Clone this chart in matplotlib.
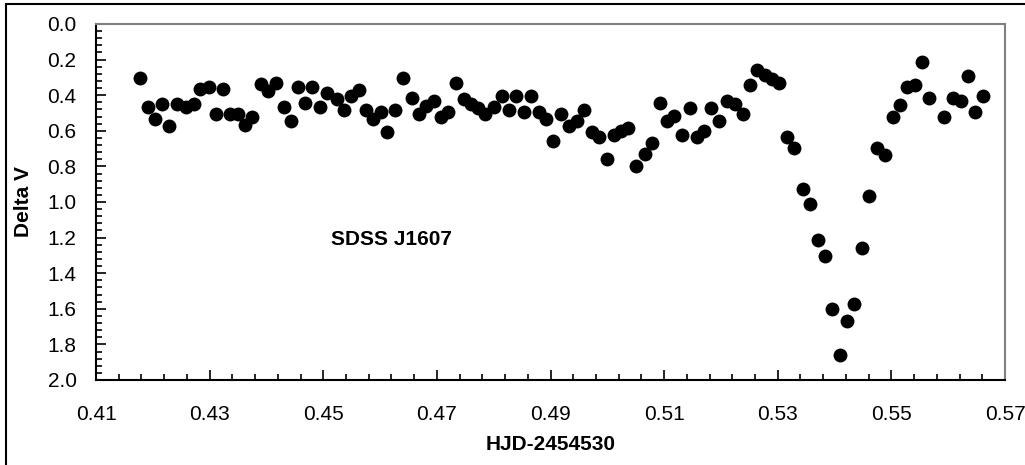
import numpy as np
import matplotlib.pyplot as plt
from matplotlib.ticker import FixedLocator, FormatStrFormatter
from matplotlib.patches import Rectangle

plt.rcParams['font.family'] = ['Liberation Sans', 'DejaVu Sans']

# HJD-2454530
hjd = [0.4177, 0.4191, 0.4203, 0.4216, 0.4229, 0.4242, 0.4258, 0.4272, 0.4283, 0.4298,
       0.4311, 0.4323, 0.4336, 0.4349, 0.4362, 0.4375, 0.4391, 0.4403, 0.4416, 0.4430,
       0.4443, 0.4456, 0.4468, 0.4481, 0.4494, 0.4507, 0.4524, 0.4537, 0.4549, 0.4562,
       0.4575, 0.4588, 0.4601, 0.4613, 0.4627, 0.4640, 0.4656, 0.4669, 0.4681, 0.4695,
       0.4708, 0.4720, 0.4733, 0.4747, 0.4760, 0.4773, 0.4785, 0.4801, 0.4814, 0.4827,
       0.4840, 0.4853, 0.4866, 0.4879, 0.4892, 0.4905, 0.4918, 0.4933, 0.4946, 0.4959,
       0.4973, 0.4986, 0.4999, 0.5011, 0.5024, 0.5037, 0.5051, 0.5066, 0.5079, 0.5092,
       0.5105, 0.5118, 0.5132, 0.5145, 0.5157, 0.5170, 0.5183, 0.5196, 0.5211, 0.5225,
       0.5238, 0.5251, 0.5264, 0.5278, 0.5290, 0.5302, 0.5316, 0.5329, 0.5345, 0.5357,
       0.5370, 0.5383, 0.5396, 0.5409, 0.5422, 0.5435, 0.5448, 0.5461, 0.5475, 0.5489,
       0.5503, 0.5515, 0.5528, 0.5542, 0.5554, 0.5567, 0.5593, 0.5609, 0.5622, 0.5635,
       0.5648, 0.5661]

delta_v = [0.302, 0.465, 0.535, 0.451, 0.573, 0.451, 0.465, 0.451, 0.363, 0.352,
           0.506, 0.363, 0.506, 0.506, 0.567, 0.522, 0.339, 0.378, 0.330, 0.465,
           0.543, 0.352, 0.442, 0.352, 0.465, 0.389, 0.423, 0.483, 0.406, 0.372,
           0.483, 0.535, 0.494, 0.605, 0.483, 0.302, 0.414, 0.504, 0.463, 0.431,
           0.522, 0.493, 0.333, 0.423, 0.451, 0.474, 0.506, 0.465, 0.403, 0.483,
           0.403, 0.494, 0.403, 0.493, 0.535, 0.660, 0.504, 0.575, 0.544, 0.483,
           0.605, 0.635, 0.756, 0.624, 0.603, 0.586, 0.796, 0.728, 0.666, 0.444,
           0.545, 0.515, 0.624, 0.474, 0.635, 0.603, 0.474, 0.544, 0.431, 0.451,
           0.506, 0.343, 0.258, 0.287, 0.311, 0.333, 0.635, 0.697, 0.928, 1.010,
           1.212, 1.303, 1.603, 1.858, 1.667, 1.575, 1.258, 0.969, 0.694, 0.738,
           0.524, 0.455, 0.356, 0.343, 0.212, 0.413, 0.524, 0.413, 0.434, 0.292,
           0.493, 0.403]

x_ticks = [0.41, 0.43, 0.45, 0.47, 0.49, 0.51, 0.53, 0.55, 0.57]

fig = plt.figure(figsize=(10.25, 4.65), dpi=100)
ax = fig.add_axes([0.0937, 0.1828, 0.8868, 0.7656])

ax.plot(hjd, delta_v, 'o', color='black', markersize=10, markeredgewidth=0)

ax.set_xlim(0.41, 0.57)
ax.set_ylim(2.0, 0.0)
ax.xaxis.set_major_locator(FixedLocator(x_ticks))
ax.xaxis.set_minor_locator(FixedLocator(np.linspace(0.41, 0.57, 41)))
ax.yaxis.set_major_locator(FixedLocator(np.linspace(0, 2, 11)))
ax.yaxis.set_minor_locator(FixedLocator(np.linspace(0, 2, 51)))
ax.xaxis.set_major_formatter(FormatStrFormatter('%.2f'))
ax.yaxis.set_major_formatter(FormatStrFormatter('%.1f'))
ax.tick_params(which='both', direction='in', top=False, right=False, labelsize=15, width=1.2)
ax.tick_params(which='major', length=7)
ax.tick_params(axis='x', which='major', pad=18)
ax.tick_params(axis='y', which='major', pad=14)
ax.tick_params(which='minor', length=4)

for s in ['top', 'right']:
    ax.spines[s].set_color('#808080')
    ax.spines[s].set_linewidth(1.5)
for s in ['left', 'bottom']:
    ax.spines[s].set_color('black')
    ax.spines[s].set_linewidth(1.5)

ax.set_xlabel('HJD-2454530', fontsize=15, fontweight='bold', labelpad=8)
ax.set_ylabel('Delta V', fontsize=15, fontweight='bold', labelpad=10)
ax.text(0.462, 1.21, 'SDSS J1607', fontsize=15, fontweight='bold', ha='center', va='center')

# outer frame
fig.patches.append(Rectangle((6/1025, -0.01), 1.02, 1 - 4/465 + 0.01, transform=fig.transFigure,
                             fill=False, edgecolor='black', linewidth=1.5, clip_on=False))

fig.savefig('out.png', dpi=100)
